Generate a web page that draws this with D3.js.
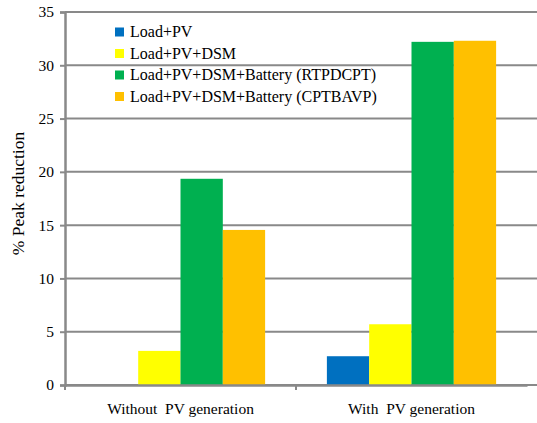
<!DOCTYPE html>
<html>
<head>
<meta charset="utf-8">
<script src="https://cdn.jsdelivr.net/npm/d3@7"></script>
<style>
  body { margin: 0; background: #fff; }
</style>
</head>
<body>
<div id="chart"></div>
<script>
// chart data
let groups = ["Without  PV generation", "With  PV generation"];
let seriesNames = ["Load+PV", "Load+PV+DSM", "Load+PV+DSM+Battery (RTPDCPT)", "Load+PV+DSM+Battery (CPTBAVP)"];
let seriesColors = ["#0070c0", "#ffff00", "#00b050", "#ffc000"];
let loadPV = [0, 2.7];
let loadPVDSM = [3.2, 5.7];
let batteryRTPDCPT = [19.35, 32.2];
let batteryCPTBAVP = [14.55, 32.3];
let yTicks = [0, 5, 10, 15, 20, 25, 30, 35];

let seriesValues = [loadPV, loadPVDSM, batteryRTPDCPT, batteryCPTBAVP];

let width = 537, height = 423;
let mLeft = 65, mRight = 527, mTop = 12, mBottom = 385;
let serif = "'Liberation Serif', 'Times New Roman', serif";

let svg = d3.select("#chart")
  .append("svg")
  .attr("width", width)
  .attr("height", height)
  .attr("font-family", serif);

let xScale = d3.scaleBand().domain(groups).range([mLeft, mRight]);
let inner = d3.scaleBand().domain(d3.range(seriesNames.length))
  .range([0, xScale.bandwidth()]).paddingOuter(0.73);
let yScale = d3.scaleLinear().domain([0, 35]).range([mBottom, mTop]);

// gridlines
svg.append("g")
  .selectAll("line")
  .data(yTicks)
  .enter()
  .append("line")
  .attr("x1", mLeft)
  .attr("x2", width)
  .attr("y1", d => yScale(d))
  .attr("y2", d => yScale(d))
  .attr("stroke", "#898989")
  .attr("stroke-width", 2);

// y axis
let yAxis = d3.axisLeft(yScale).tickValues(yTicks).tickSize(5).tickPadding(6);
let yg = svg.append("g")
  .attr("transform", `translate(${mLeft},0)`)
  .call(yAxis)
  .attr("font-family", serif)
  .attr("font-size", 15.5);
yg.select(".domain").attr("stroke", "#898989").attr("stroke-width", 2.5);
yg.selectAll(".tick line").attr("stroke", "#898989").attr("stroke-width", 2);
yg.selectAll(".tick text").attr("fill", "#000");

// bars
seriesValues.forEach(function(vals, s) {
  svg.append("g")
    .selectAll("rect")
    .data(vals)
    .enter()
    .append("rect")
    .attr("x", (d, i) => xScale(groups[i]) + inner(s))
    .attr("width", inner.bandwidth())
    .attr("y", d => yScale(d))
    .attr("height", d => yScale(0) - yScale(d))
    .attr("fill", seriesColors[s]);
});

// x axis
let xAxis = d3.axisBottom(xScale).tickSize(0).tickPadding(18);
let xg = svg.append("g")
  .attr("transform", `translate(0,${mBottom})`)
  .call(xAxis)
  .attr("font-family", serif)
  .attr("font-size", 15.5);
xg.select(".domain").attr("stroke", "#898989").attr("stroke-width", 2.5);
xg.selectAll(".tick text")
  .attr("fill", "#000")
  .style("white-space", "pre");
// category separators
xg.selectAll(".sep")
  .data([mLeft, xScale(groups[1])])
  .enter()
  .append("line")
  .attr("x1", d => d)
  .attr("x2", d => d)
  .attr("y1", 0)
  .attr("y2", 5)
  .attr("stroke", "#898989")
  .attr("stroke-width", 2);

// y label
svg.append("text")
  .attr("transform", "translate(24,193.5) rotate(-90)")
  .attr("text-anchor", "middle")
  .attr("font-size", 17.5)
  .text("% Peak reduction");

// legend
let legend = svg.append("g")
  .selectAll("g")
  .data(seriesNames)
  .enter()
  .append("g")
  .attr("transform", (d, i) => `translate(115,${32 + i * 21.5})`);
legend.append("rect")
  .attr("x", 0)
  .attr("y", -4.5)
  .attr("width", 9)
  .attr("height", 9)
  .attr("fill", (d, i) => seriesColors[i]);
legend.append("text")
  .attr("x", 15)
  .attr("y", 5)
  .attr("font-size", 16)
  .text(d => d);
</script>
</body>
</html>
